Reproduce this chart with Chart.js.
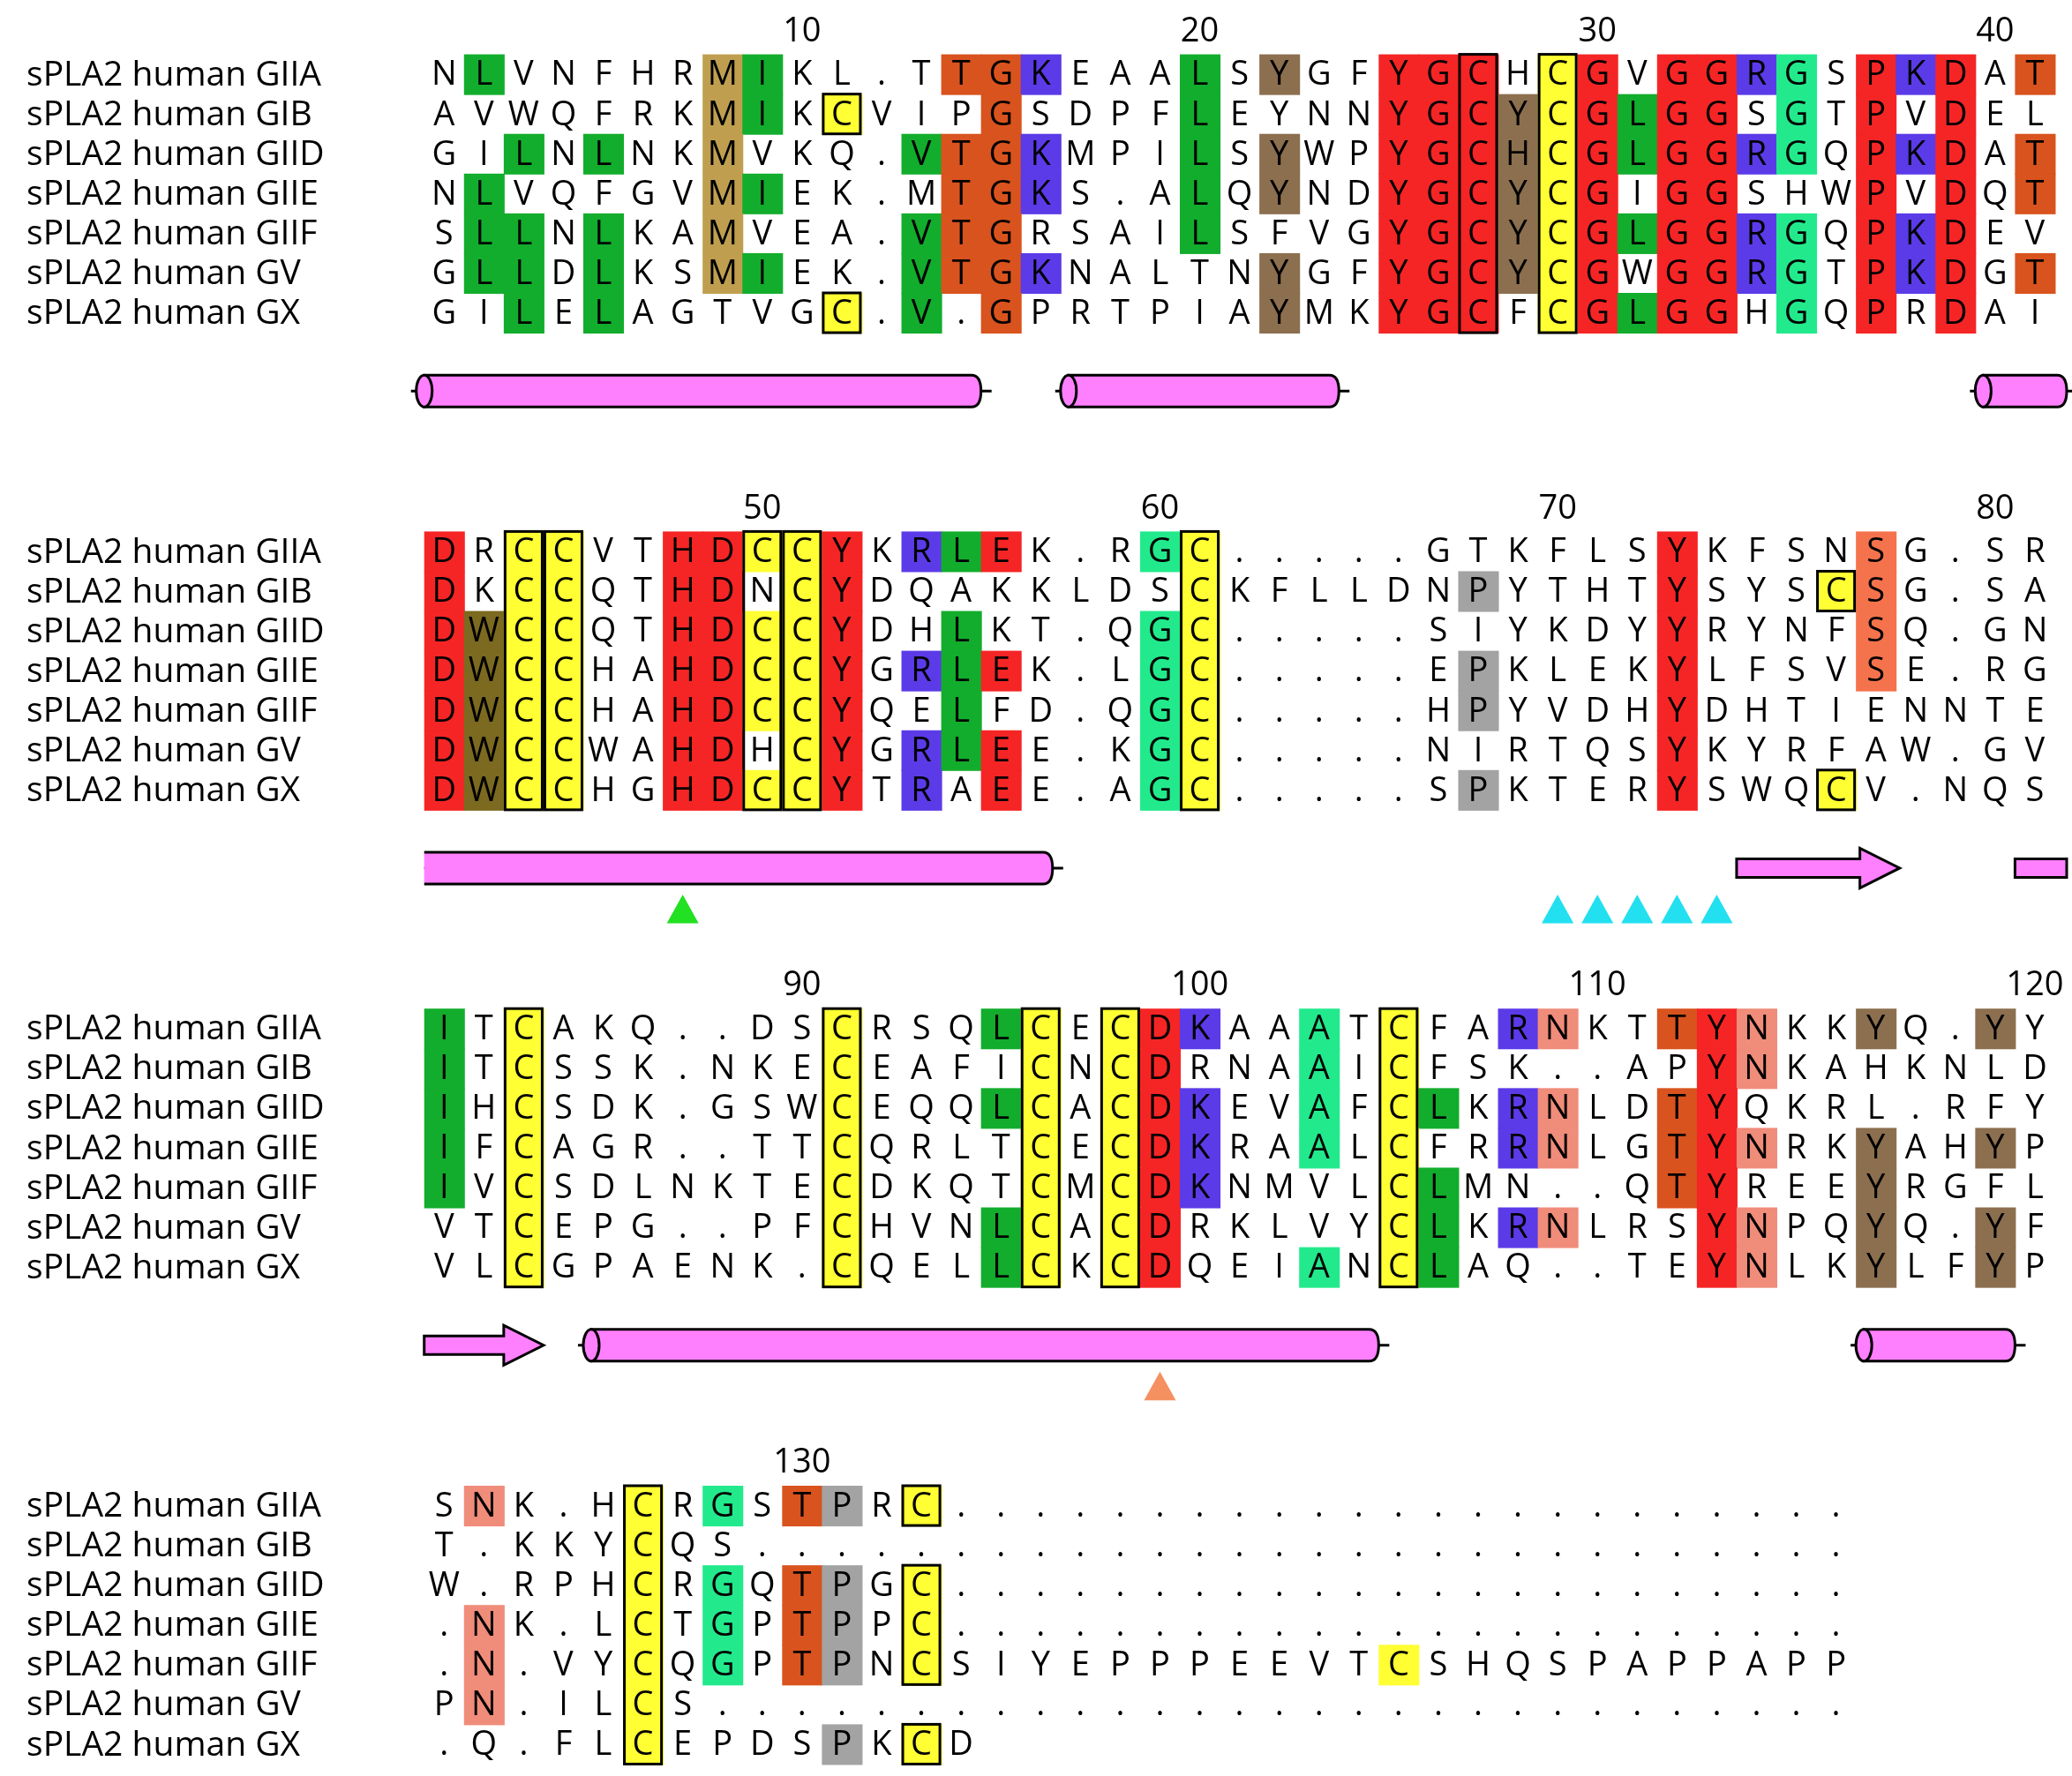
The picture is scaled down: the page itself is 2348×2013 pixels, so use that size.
<!DOCTYPE html>
<html>
<head>
<meta charset="utf-8">
<script src="https://cdn.jsdelivr.net/npm/chart.js@4.4.0/dist/chart.umd.min.js"></script>
<style>
  html, body { margin: 0; padding: 0; background: #fff; }
  canvas { display: block; }
</style>
</head>
<body>
<canvas id="aln" width="2348" height="2013"></canvas>
<script>
// sequence names
const names = ["sPLA2 human GIIA", "sPLA2 human GIB", "sPLA2 human GIID", "sPLA2 human GIIE",
  "sPLA2 human GIIF", "sPLA2 human GV", "sPLA2 human GX"];

// residues per block (one string per sequence, one char per column)
const block1 = [
  "NLVNFHRMIKL.TTGKEAALSYGFYGCHCGVGGRGSPKDAT",
  "AVWQFRKMIKCVIPGSDPFLEYNNYGCYCGLGGSGTPVDEL",
  "GILNLNKMVKQ.VTGKMPILSYWPYGCHCGLGGRGQPKDAT",
  "NLVQFGVMIEK.MTGKS.ALQYNDYGCYCGIGGSHWPVDQT",
  "SLLNLKAMVEA.VTGRSAILSFVGYGCYCGLGGRGQPKDEV",
  "GLLDLKSMIEK.VTGKNALTNYGFYGCYCGWGGRGTPKDGT",
  "GILELAGTVGC.V.GPRTPIAYMKYGCFCGLGGHGQPRDAI"];
const block2 = [
  "DRCCVTHDCCYKRLEK.RGC.....GTKFLSYKFSNSG.SR",
  "DKCCQTHDNCYDQAKKLDSCKFLLDNPYTHTYSYSCSG.SA",
  "DWCCQTHDCCYDHLKT.QGC.....SIYKDYYRYNFSQ.GN",
  "DWCCHAHDCCYGRLEK.LGC.....EPKLEKYLFSVSE.RG",
  "DWCCHAHDCCYQELFD.QGC.....HPYVDHYDHTIENNTE",
  "DWCCWAHDHCYGRLEE.KGC.....NIRTQSYKYRFAW.GV",
  "DWCCHGHDCCYTRAEE.AGC.....SPKTERYSWQCV.NQS"];
const block3 = [
  "ITCAKQ..DSCRSQLCECDKAAATCFARNKTTYNKKYQ.YY",
  "ITCSSK.NKECEAFICNCDRNAAICFSK..APYNKAHKNLD",
  "IHCSDK.GSWCEQQLCACDKEVAFCLKRNLDTYQKRL.RFY",
  "IFCAGR..TTCQRLTCECDKRAALCFRRNLGTYNRKYAHYP",
  "IVCSDLNKTECDKQTCMCDKNMVLCLMN..QTYREEYRGFL",
  "VTCEPG..PFCHVNLCACDRKLVYCLKRNLRSYNPQYQ.YF",
  "VLCGPAENK.CQELLCKCDQEIANCLAQ..TEYNLKYLFYP"];
const block4 = [
  "SNK.HCRGSTPRC.......................",
  "T.KKYCQS............................",
  "W.RPHCRGQTPGC.......................",
  ".NK.LCTGPTPPC.......................",
  ".N.VYCQGPTPNCSIYEPPPEEVTCSHQSPAPPAPP",
  "PN.ILCS.............................",
  ".Q.FLCEPDSPKCD"];

// shading class per residue
const shade1 = [
  ".g.....og....ddu...g.b..rrR.Yr.rrum.rur.d",
  ".......og.Y...d....g....rrRbYrgrr.m.r.r..",
  "..g.g..o....gddu...g.b..rrRbYrgrrum.rur.d",
  ".g.....og....ddu...g.b..rrRbYr.rr...r.r.d",
  ".gg.g..o....gdd....g....rrRbYrgrrum.rur..",
  ".gg.g..og...gddu.....b..rrRbYr.rrum.rur.d",
  "..g.g.....Y.g.d......b..rrR.Yrgrr.m.r.r.."];
const shade2 = [
  "r.YY..rrYYr.ugr...mY...........r....S....",
  "r.YY..rrBYr........Y......k....r...YS....",
  "rwYY..rrYYr..g....mY...........r....S....",
  "rwYY..rrYYr.ugr...mY......k....r....S....",
  "rwYY..rrYYr..g....mY......k....r.........",
  "rwYY..rrBYr.ugr...mY...........r.........",
  "rwYY..rrYYr.u.r...mY......k....r...Y....."];
const shade3 = [
  "g.Y.......Y...gY.Yru..m.Y..us..drs..b..b.",
  "g.Y.......Y....Y.Yr...m.Y.......rs.......",
  "g.Y.......Y...gY.Yru..m.Yg.us..dr........",
  "g.Y.......Y....Y.Yru..m.Y..us..drs..b..b.",
  "g.Y.......Y....Y.Yru....Yg.....dr...b....",
  "..Y.......Y...gY.Yr.....Yg.us...rs..b..b.",
  "..Y.......Y...gY.Yr...m.Yg......rs..b..b."];
const shade4 = [
  ".s...Y.m.dk.Y",
  ".....Y",
  ".....Y.m.dk.Y",
  ".s...Y.m.dk.Y",
  ".s...Y.m.dk.Y...........y",
  ".s...Y",
  ".....Y....k.Y"];

const blocks = [block1, block2, block3, block4];
const shades = [shade1, shade2, shade3, shade4];

// position numbers: [block, column, label]
const numbers = [[0, 10, "10"], [0, 20, "20"], [0, 30, "30"], [0, 40, "40"],
  [1, 9, "50"], [1, 19, "60"], [1, 29, "70"], [1, 40, "80"],
  [2, 10, "90"], [2, 20, "100"], [2, 30, "110"], [2, 41, "120"],
  [3, 10, "130"]];

// secondary structure: [block, fromCol, toCol, hasLeftCap]
const helices = [[0, 0.5, 14.5, true], [0, 16.7, 23.5, true], [0, 39.7, 41.8, true],
  [1, 0.5, 16.3, false], [2, 4.7, 24.5, true], [2, 36.7, 40.5, true]];
const strands = [[1, 33.5, 37.6], [2, 0.5, 3.5]];
const stubs = [[1, 40.5, 41.8]];
// markers: [block, column, colour]
const markers = [[1, 7, "#22e022"], [1, 29, "#22e0f0"], [1, 30, "#22e0f0"], [1, 31, "#22e0f0"],
  [1, 32, "#22e0f0"], [1, 33, "#22e0f0"], [2, 19, "#f59060"]];

const fills = { g: "#12ad2c", o: "#bf9f4f", b: "#8c6f4f", r: "#f52525", R: "#f52525", d: "#d9531e",
  u: "#5b3be8", m: "#22ea8c", y: "#ffff33", Y: "#ffff33", s: "#f08c7a", S: "#f5734c",
  k: "#a3a3a3", w: "#7b6a1f" };
const boxed = "YRB";

const colX = c => 335 + (c - 1) * 30;
const rowY = (b, r) => 56 + 360 * b + 30 * r;

const alignmentPlugin = {
  id: "alignment",
  afterDraw(chart) {
    const ctx = chart.ctx, xs = chart.scales.x, ys = chart.scales.y;
    const px = v => xs.getPixelForValue(v), py = v => ys.getPixelForValue(v);
    const k = px(1) - px(0);
    ctx.save();
    ctx.textBaseline = "middle";

    blocks.forEach((blk, b) => {
      // names
      ctx.fillStyle = "#000";
      ctx.textAlign = "left";
      ctx.font = `${Math.round(26 * k)}px "Open Sans", "Noto Sans", sans-serif`;
      names.forEach((n, r) => ctx.fillText(n, px(20), py(rowY(b, r) + 1)));

      // shading
      blk.forEach((seq, r) => {
        const sh = shades[b][r];
        for (let c = 1; c <= seq.length; c++) {
          const f = fills[sh[c - 1]];
          if (f) {
            ctx.fillStyle = f;
            ctx.fillRect(px(colX(c) - 15), py(rowY(b, r) - 15), 30 * k + 1, 30 * k + 1);
          }
        }
      });

      // boxes around conserved columns
      ctx.strokeStyle = "#000";
      ctx.lineWidth = 2 * k;
      for (let c = 1; c <= 41; c++) {
        let start = -1;
        for (let r = 0; r <= blk.length; r++) {
          const isBox = r < blk.length && boxed.includes((shades[b][r] || "")[c - 1] || ".");
          if (isBox && start < 0) start = r;
          if (!isBox && start >= 0) {
            ctx.strokeRect(px(colX(c) - 14), py(rowY(b, start) - 15),
              28 * k, (r - start) * 30 * k);
            start = -1;
          }
        }
      }

      // residues
      ctx.fillStyle = "#000";
      ctx.textAlign = "center";
      ctx.font = `${Math.round(25 * k)}px "Open Sans", "Noto Sans", sans-serif`;
      blk.forEach((seq, r) => {
        for (let c = 1; c <= seq.length; c++) {
          ctx.fillText(seq[c - 1], px(colX(c)), py(rowY(b, r) + 1));
        }
      });
    });

    // numbering
    ctx.font = `${Math.round(25 * k)}px "Open Sans", "Noto Sans", sans-serif`;
    numbers.forEach(([b, c, t]) => ctx.fillText(t, px(colX(c)), py(24 + 360 * b)));

    // secondary structure
    ctx.lineWidth = 2 * k;
    ctx.strokeStyle = "#000";
    const ssY = b => 295 + 360 * b;
    helices.forEach(([b, c0, c1, cap]) => {
      const x0 = px(colX(c0)), x1 = px(colX(c1)), yc = py(ssY(b)), h = 12 * k;
      ctx.beginPath(); ctx.moveTo(cap ? x0 - 10 * k : x0, yc); ctx.lineTo(x1 + 8 * k, yc); ctx.stroke();
      ctx.fillStyle = "#ff80ff";
      ctx.beginPath();
      ctx.moveTo(x0, yc - h); ctx.lineTo(x1 - h * 0.6, yc - h);
      ctx.quadraticCurveTo(x1, yc - h, x1, yc); ctx.quadraticCurveTo(x1, yc + h, x1 - h * 0.6, yc + h);
      ctx.lineTo(x0, yc + h);
      if (cap) ctx.closePath();
      ctx.fill(); ctx.stroke();
      if (cap) { ctx.beginPath(); ctx.ellipse(x0, yc, 6 * k, h, 0, 0, Math.PI * 2); ctx.fill(); ctx.stroke(); }
    });
    strands.forEach(([b, c0, c1]) => {
      const x0 = px(colX(c0)), x1 = px(colX(c1)), yc = py(ssY(b)), h = 7 * k, hh = 15 * k;
      ctx.fillStyle = "#ff80ff";
      ctx.beginPath();
      ctx.moveTo(x0, yc - h); ctx.lineTo(x1 - 30 * k, yc - h); ctx.lineTo(x1 - 30 * k, yc - hh);
      ctx.lineTo(x1, yc); ctx.lineTo(x1 - 30 * k, yc + hh); ctx.lineTo(x1 - 30 * k, yc + h);
      ctx.lineTo(x0, yc + h); ctx.closePath(); ctx.fill(); ctx.stroke();
    });
    stubs.forEach(([b, c0, c1]) => {
      const x0 = px(colX(c0)), x1 = px(colX(c1)), yc = py(ssY(b)), h = 7 * k;
      ctx.fillStyle = "#ff80ff";
      ctx.beginPath(); ctx.rect(x0, yc - h, x1 - x0, 2 * h); ctx.fill(); ctx.stroke();
    });
    markers.forEach(([b, c, col]) => {
      const x = px(colX(c)), y = py(ssY(b) + 32), s = 12 * k;
      ctx.fillStyle = col;
      ctx.beginPath(); ctx.moveTo(x, y - s); ctx.lineTo(x + s, y + s * 0.8); ctx.lineTo(x - s, y + s * 0.8);
      ctx.closePath(); ctx.fill();
    });
    ctx.restore();
  }
};

new Chart(document.getElementById("aln"), {
  type: "scatter",
  data: { datasets: [{ data: [], pointRadius: 0 }] },
  options: {
    responsive: false,
    devicePixelRatio: 1,
    animation: false,
    layout: { padding: 0 },
    plugins: { legend: { display: false }, tooltip: { enabled: false } },
    scales: {
      x: { type: "linear", min: 0, max: 1563, display: false },
      y: { type: "linear", min: 0, max: 1340, reverse: true, display: false }
    }
  },
  plugins: [alignmentPlugin]
});
</script>
</body>
</html>
